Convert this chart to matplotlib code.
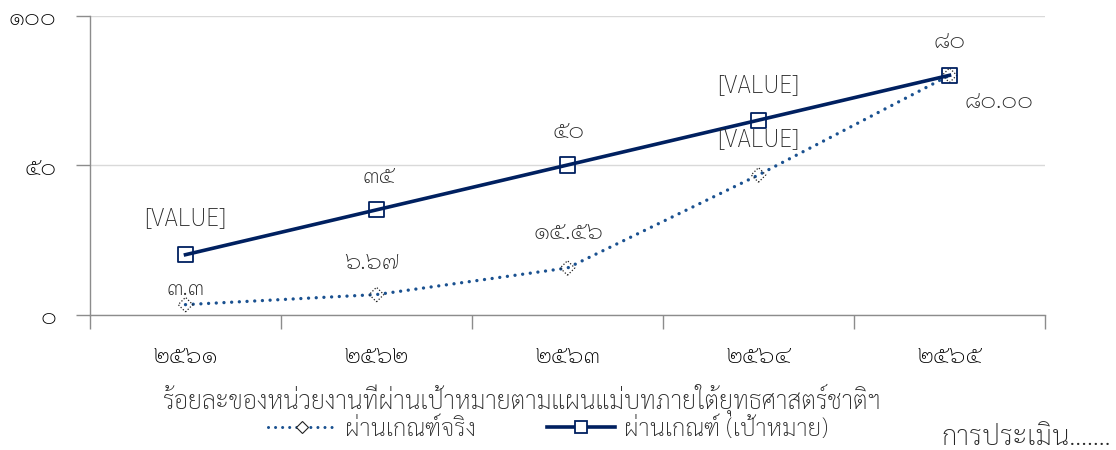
import matplotlib
matplotlib.use("Agg")
import matplotlib.pyplot as plt
from matplotlib.lines import Line2D

plt.rcParams['font.family'] = ['Sarabun', 'DejaVu Sans']
plt.rcParams['font.weight'] = 'light'

years = ["๒๕๖๑", "๒๕๖๒", "๒๕๖๓", "๒๕๖๔", "๒๕๖๕"]
actual = [3.3, 6.67, 15.56, 46.67, 80.0]
target = [20, 35, 50, 65, 80]
actual_labels = ["๓.๓", "๖.๖๗", "๑๕.๕๖", "[VALUE]", "๘๐.๐๐"]
target_labels = ["[VALUE]", "๓๕", "๕๐", "[VALUE]", "๘๐"]
yticks = [0, 50, 100]
ytick_labels = ["๐", "๕๐", "๑๐๐"]
series_names = ["ผ่านเกณฑ์จริง", "ผ่านเกณฑ์ (เป้าหมาย)"]
axis_title = "ร้อยละของหน่วยงานที่ผ่านเป้าหมายตามแผนแม่บทภายใต้ยุทธศาสตร์ชาติฯ"
note = "การประเมิน......."

navy = "#002060"
blue = "#1A5190"
grid = "#D9D9D9"
spine = "#8C8C8C"
fs = 17.5

fig = plt.figure(figsize=(11.16, 4.5), dpi=100)
ax = fig.add_axes([90/1116, 1-314.5/450, (1045-90)/1116, (314.5-15.5)/450])
x = list(range(len(years)))

dots = (0, (0.01, 2.3))
ax.plot(x, actual, color=blue, lw=2.4, linestyle=dots, dash_capstyle='round', zorder=3)
ax.scatter(x, actual, marker='D', s=55, facecolors='none', edgecolors='#222222',
           linewidths=0.9, linestyle=(0, (1, 1.5)), zorder=4)
ax.plot(x, target, color=navy, lw=2.6, zorder=5)
ax.scatter(x, target, marker='s', s=120, facecolors='none', edgecolors=navy, linewidths=1.3, zorder=6)

ax.set_xlim(-0.5, 4.5)
ax.set_ylim(0, 100)
ax.set_yticks(yticks)
ax.set_yticklabels(ytick_labels)
ax.set_xticks([i - 0.5 for i in range(len(years) + 1)])
ax.set_xticklabels([])
ax.set_xticks(x, minor=True)
ax.set_xticklabels(years, minor=True)
ax.tick_params(axis='x', which='major', direction='out', length=10, color=spine, width=1)
ax.tick_params(axis='x', which='minor', length=0, pad=21, labelsize=fs)
ax.tick_params(axis='y', direction='out', length=10, color=spine, width=1, pad=14, labelsize=fs)
for s in ['top', 'right']:
    ax.spines[s].set_visible(False)
for s in ['left', 'bottom']:
    ax.spines[s].set_color(spine)
    ax.spines[s].set_linewidth(1)
ax.grid(axis='y', color=grid, lw=1)
ax.set_axisbelow(True)

# data labels (offsets in pixels)
t_off = [(0, 36), (2, 33), (1, 34), (0, 35), (0, 34)]
a_off = [(0, 16), (-5, 32), (1, 36), (0, 35), (50, -26)]
for i in x:
    ax.annotate(target_labels[i], (x[i], target[i]), xytext=t_off[i], textcoords='offset pixels',
                ha='center', va='center', fontsize=fs, color='#262626', zorder=7)
    ax.annotate(actual_labels[i], (x[i], actual[i]), xytext=a_off[i], textcoords='offset pixels',
                ha='center', va='center', fontsize=fs, color='#262626', zorder=7)

fig.text(522/1116, 1-400/450, axis_title, ha='center', va='center', fontsize=18, color='#262626')

h1 = Line2D([], [], color=blue, lw=2.2, linestyle=dots, dash_capstyle='round',
            marker='D', markersize=6, markerfacecolor='white', markeredgecolor='#222222', markeredgewidth=0.8)
h2 = Line2D([], [], color=navy, lw=2.6, marker='s', markersize=9,
            markerfacecolor='white', markeredgecolor=navy, markeredgewidth=1.3)
fig.legend([h1, h2], series_names, loc='center', bbox_to_anchor=(548/1116, 1-429/450), ncol=2,
           frameon=False, fontsize=fs, handlelength=2.8, columnspacing=2.9, handletextpad=0.4,
           labelcolor='#262626')

fig.text(941/1116, 1-438/450, note, ha='left', va='center', fontsize=20, color='#262626')

fig.savefig("out.png", dpi=100)
